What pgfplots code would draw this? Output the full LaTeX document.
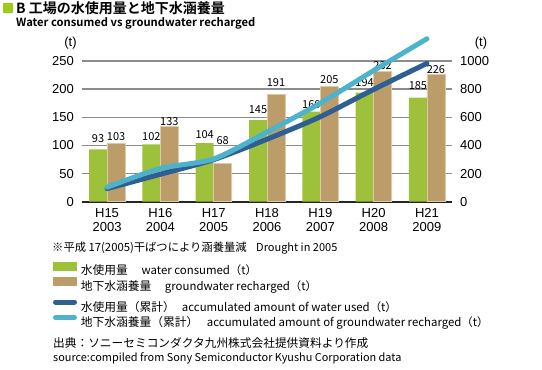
\documentclass[border=0pt]{standalone}
\usepackage{pgfplots}
\pgfplotsset{compat=1.18}
\usepackage{pgfplotstable}
\usepackage{fontspec}
\setmainfont{Noto Sans CJK JP}[BoldFont={Noto Sans CJK JP Bold}]
\newfontfamily\helv{Liberation Sans}
\definecolor{bargreen}{HTML}{9DC13B}
\definecolor{barbrown}{HTML}{BC9C68}
\definecolor{baredge}{HTML}{DCCBA8}
\definecolor{darkline}{HTML}{2F5E93}
\definecolor{lightline}{HTML}{4DB3CA}
\definecolor{titlegreen}{HTML}{9CCB19}
\definecolor{gridgray}{HTML}{8C8C8C}

\pgfplotstableread{
x y gap
0 93 7
1 102 3
2 104 4.5
3 145 6.5
4 160 3
5 194 6
6 185 8
}\consumed
\pgfplotstableread{
x y gap
0 103 3
1 133 0.5
2 68 18.5
3 191 7.5
4 205 2.5
5 232 1
6 226 1
}\recharged
\pgfplotstableread{
x y
0 93
1 195
2 299
3 444
4 604
5 798
6 983
}\cumused
\pgfplotstableread{
x y
0 103
1 236
2 304
3 495
4 700
5 932
6 1158
}\cumrech

\pgfplotsset{/pgf/number format/assume math mode=true}
\newcommand{\lgs}{\rule[-4.2pt]{0pt}{15.3pt}}
\newcommand{\tickfont}{\helv\fontsize{13}{14.3}\selectfont}
\newcommand{\cj}{\fontsize{11.75}{13}\selectfont}
\newcommand{\lgbox}{\path[draw=none, fill=none] (0pt,-2.2pt) rectangle (24pt,9.1pt);}

\begin{document}
\begin{tikzpicture}
\useasboundingbox (0pt,0pt) rectangle (542pt,370pt);
% titles
\fill[titlegreen] (3pt,357pt) rectangle (13pt,367pt);
\node[inner sep=0pt, anchor=base west, font=\bfseries\fontsize{14}{16}\selectfont] at (16pt,356.5pt) {B 工場の水使用量と地下水涵養量};
\node[inner sep=0pt, anchor=base west, font=\bfseries\fontsize{11.2}{14}\selectfont] at (16pt,343.3pt) {Water consumed vs groundwater recharged};
\node[inner sep=0pt, anchor=base, font=\tickfont] at (70.5pt,323.5pt) {(t)};
\node[inner sep=0pt, anchor=base, font=\tickfont] at (481pt,323.5pt) {(t)};

\begin{axis}[
  at={(82pt,168.3pt)}, anchor=south west,
  scale only axis, width=370pt, height=140.7pt,
  xmin=-0.47, xmax=6.47, ymin=0, ymax=250,
  ytick={0,50,...,250},
  xtick={0,...,6},
  xticklabels={{H15\\2003},{H16\\2004},{H17\\2005},{H18\\2006},{H19\\2007},{H20\\2008},{H21\\2009}},
  xticklabel style={align=center, font=\tickfont, inner sep=0pt, yshift=-6.6pt},
  yticklabel style={font=\tickfont, inner sep=0pt, xshift=-8pt},
  axis x line=bottom, axis y line=left,
  x axis line style={-, line width=2pt, color=black!85},
  y axis line style={draw=none},
  major tick length=0pt,
  ymajorgrids, grid style={line width=1.3pt, color=gridgray},
  ybar=0pt, bar width=18pt,
  clip=false,
  legend cell align=left,
  legend style={at={(-0.0784,-0.4208)}, anchor=north west, draw=none, fill=none,
    inner sep=0pt, outer sep=0pt, row sep=0pt,
    nodes={inner sep=0pt, font=\fontsize{11.4}{13}\selectfont},
    /tikz/every odd column/.append style={column sep=4pt}},
]
\addplot[fill=bargreen, draw=none,
  nodes near coords,
  visualization depends on={\thisrow{gap} \as \gap},
  every node near coord/.append style={font=\fontsize{11}{13}\selectfont, inner sep=0pt, anchor=south, yshift=\gap pt, text=black},
  legend image code/.code={\lgbox\fill[bargreen, draw=none] (0pt,-1pt) rectangle (24pt,8.3pt);}
] table[x=x,y=y]{\consumed};
\addlegendentry{\lgs\makebox[60.7pt][l]{\cj 水使用量}water consumed（t）}
\addplot[fill=barbrown, draw=baredge, line width=0.7pt,
  nodes near coords,
  visualization depends on={\thisrow{gap} \as \gap},
  every node near coord/.append style={font=\fontsize{11}{13}\selectfont, inner sep=0pt, anchor=south, yshift=\gap pt, text=black},
  legend image code/.code={\lgbox\fill[barbrown, draw=none] (0pt,-1pt) rectangle (24pt,8.3pt);}
] table[x=x,y=y]{\recharged};
\addlegendentry{\lgs\makebox[84pt][l]{\cj 地下水涵養量}groundwater recharged（t）}
\end{axis}

\begin{axis}[
  at={(82pt,168.3pt)}, anchor=south west,
  scale only axis, width=370pt, height=140.7pt,
  xmin=-0.47, xmax=6.47, ymin=0, ymax=1000,
  ytick={0,200,...,1000},
  xtick=\empty,
  axis x line=none, axis y line*=right,
  y axis line style={draw=none},
  major tick length=0pt,
  yticklabel style={font=\tickfont, inner sep=0pt, xshift=8pt, anchor=west},
  /pgf/number format/1000 sep={},
  clip=false,
  legend cell align=left,
  legend style={at={(-0.0784,-0.6816)}, anchor=north west, draw=none, fill=none,
    inner sep=0pt, outer sep=0pt, row sep=0pt,
    nodes={inner sep=0pt, font=\fontsize{11.4}{13}\selectfont},
    /tikz/every odd column/.append style={column sep=4pt}},
]
\addplot[darkline, line width=5pt, line cap=round, smooth, tension=0.45,
  legend image code/.code={\lgbox\draw[darkline, line width=5pt, line cap=round] (2.5pt,4.6pt) -- (21.5pt,4.6pt);}
] table[x=x,y=y]{\cumused};
\addlegendentry{\lgs\makebox[101pt][l]{\cj 水使用量（累計）}accumulated amount of water used（t）}
\addplot[lightline, line width=5pt, line cap=round, smooth, tension=0.45,
  legend image code/.code={\lgbox\draw[lightline, line width=5pt, line cap=round] (2.5pt,4.4pt) -- (21.5pt,4.4pt);}
] table[x=x,y=y]{\cumrech};
\addlegendentry{\lgs\makebox[126pt][l]{\cj 地下水涵養量（累計）}accumulated amount of groundwater recharged（t）}
\end{axis}

% notes
\node[inner sep=0pt, anchor=base west, font=\fontsize{11}{12}\selectfont] at (52pt,118.5pt) {\makebox[204pt][l]{\fontsize{11.3}{12}\selectfont ※平成 17(2005)干ばつにより涵養量減}Drought in 2005};
\node[inner sep=0pt, anchor=base west, font=\fontsize{11.7}{12}\selectfont] at (53pt,22.5pt) {出典：ソニーセミコンダクタ九州株式会社提供資料より作成};
\node[inner sep=0pt, anchor=base west, font=\fontsize{10.9}{12}\selectfont] at (53pt,8.5pt) {source:compiled from Sony Semiconductor Kyushu Corporation data};
\end{tikzpicture}
\end{document}
